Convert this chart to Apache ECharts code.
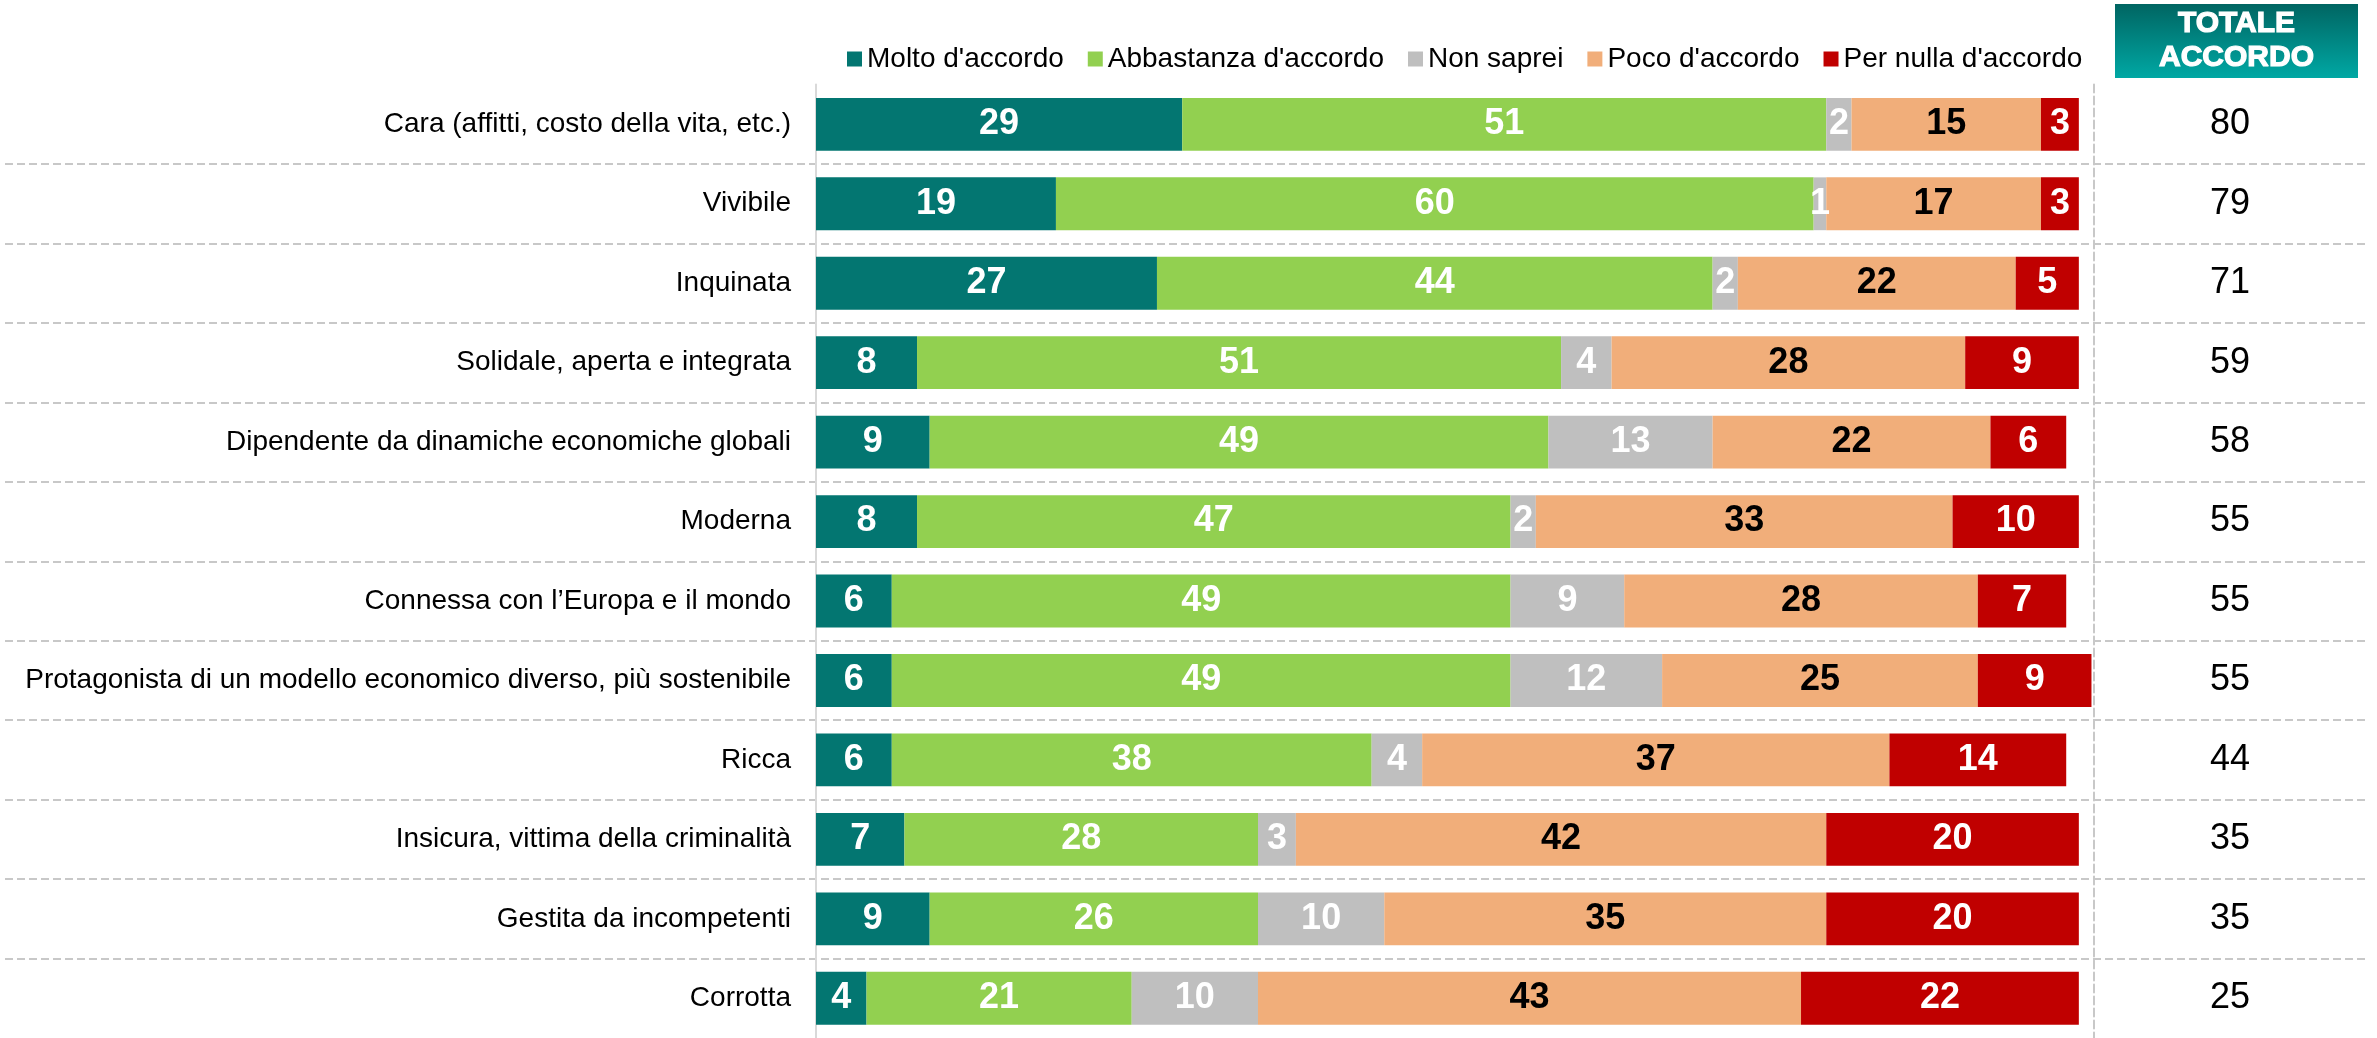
<!DOCTYPE html>
<html>
<head>
<meta charset="utf-8">
<script src="https://cdn.jsdelivr.net/npm/echarts@6/dist/echarts.min.js"></script>
<style>
  html, body { margin: 0; padding: 0; background: #fff; }
  #chart { width: 2377px; height: 1038px; }
</style>
</head>
<body>
<div id="chart"></div>
<script>
const categories = [
  'Cara (affitti, costo della vita, etc.)',
  'Vivibile',
  'Inquinata',
  'Solidale, aperta e integrata',
  'Dipendente da dinamiche economiche globali',
  'Moderna',
  'Connessa con l\u2019Europa e il mondo',
  'Protagonista di un modello economico diverso, più sostenibile',
  'Ricca',
  'Insicura, vittima della criminalità',
  'Gestita da incompetenti',
  'Corrotta'
]
const molto = [29, 19, 27, 8, 9, 8, 6, 6, 6, 7, 9, 4]
const abbastanza = [51, 60, 44, 51, 49, 47, 49, 49, 38, 28, 26, 21]
const nonSaprei = [2, 1, 2, 4, 13, 2, 9, 12, 4, 3, 10, 10]
const poco = [15, 17, 22, 28, 22, 33, 28, 25, 37, 42, 35, 43]
const perNulla = [3, 3, 5, 9, 6, 10, 7, 9, 14, 20, 20, 22]
const totale = [80, 79, 71, 59, 58, 55, 55, 55, 44, 35, 35, 25]

const FONT = '"Liberation Sans", Arial, sans-serif'

const chart = echarts.init(document.getElementById('chart'))

// serie impilate: nome, dati, colore, colore etichetta
const stack = [
  ['Molto d\'accordo', molto, '#037671', '#fff'],
  ['Abbastanza d\'accordo', abbastanza, '#92D050', '#fff'],
  ['Non saprei', nonSaprei, '#BFBFBF', '#fff'],
  ['Poco d\'accordo', poco, '#F1AE7A', '#000'],
  ['Per nulla d\'accordo', perNulla, '#C00000', '#fff']
]

const option = {
  animation: false,
  textStyle: { fontFamily: FONT },
  legend: {
    left: 842,
    top: 40,
    icon: 'rect',
    itemWidth: 15,
    itemHeight: 15,
    itemGap: 24,
    textStyle: { fontSize: 28, color: '#000', fontFamily: FONT },
    data: stack.map((s) => s[0])
  },
  grid: [
    { left: 816, right: 283, top: 84.6, height: 957.3 },
    // griglia solo per le linee tratteggiate tra le righe
    { left: 5, right: 12, top: 84.6, height: 957.3 }
  ],
  xAxis: [
    { type: 'value', gridIndex: 0, min: 0, max: 101.2, show: false },
    { type: 'value', gridIndex: 1, min: 0, max: 1, show: false }
  ],
  yAxis: [
    {
      type: 'category',
      gridIndex: 0,
      inverse: true,
      data: categories,
      axisLine: { lineStyle: { color: '#d9d9d9', width: 2 } },
      axisTick: { show: false },
      axisLabel: { fontSize: 28, color: '#000', margin: 25, fontFamily: FONT }
    },
    {
      // totale accordo a destra
      type: 'category',
      gridIndex: 0,
      position: 'right',
      inverse: true,
      data: totale.map(String),
      axisLine: { show: true, lineStyle: { color: '#c8c8c8', width: 2, type: [8, 4] } },
      axisTick: { show: false },
      axisLabel: { fontSize: 36, color: '#000', margin: 136, align: 'center', fontFamily: FONT }
    },
    {
      type: 'category',
      gridIndex: 1,
      inverse: true,
      data: categories,
      axisLine: { show: false },
      axisTick: { show: false },
      axisLabel: { show: false },
      splitLine: {
        show: true,
        showMinLine: false,
        showMaxLine: false,
        lineStyle: { color: '#c8c8c8', width: 2, type: [8, 4] }
      }
    }
  ],
  graphic: [
    {
      type: 'group',
      left: 2115,
      top: 4,
      children: [
        {
          type: 'rect',
          shape: { x: 0, y: 0, width: 243, height: 74 },
          style: {
            fill: new echarts.graphic.LinearGradient(0, 0, 0, 1, [
              { offset: 0, color: '#006562' },
              { offset: 1, color: '#00A8A4' }
            ])
          }
        },
        {
          type: 'text',
          style: {
            x: 121.5,
            y: 37,
            text: 'TOTALE\nACCORDO',
            align: 'center',
            verticalAlign: 'middle',
            fill: '#fff',
            stroke: '#fff',
            lineWidth: 1.2,
            fontSize: 30,
            fontWeight: 'bold',
            fontFamily: FONT,
            lineHeight: 34
          }
        }
      ]
    }
  ],
  series: stack.map((s) => ({
    name: s[0],
    type: 'bar',
    stack: 'tot',
    xAxisIndex: 0,
    yAxisIndex: 0,
    barCategoryGap: '33.5%',
    data: s[1],
    itemStyle: { color: s[2] },
    label: {
      show: true,
      position: 'inside',
      color: s[3],
      fontSize: 36,
      fontWeight: 'bold',
      fontFamily: FONT
    }
  }))
}

chart.setOption(option)
</script>
</body>
</html>
